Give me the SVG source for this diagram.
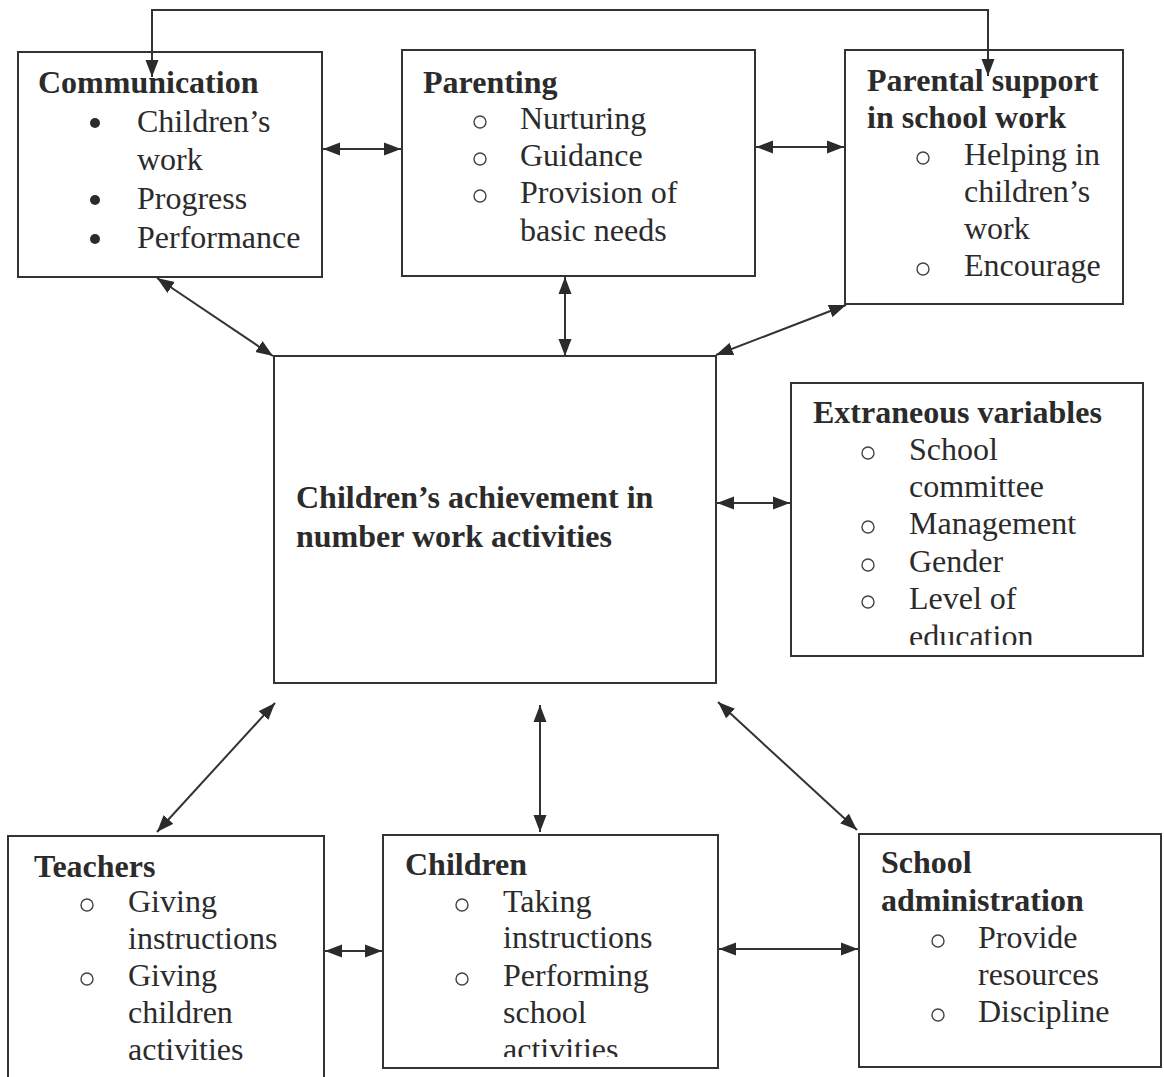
<svg xmlns="http://www.w3.org/2000/svg" width="1164" height="1077" viewBox="0 0 1164 1077">
<defs>
<style>
.box{fill:none;stroke:#333;stroke-width:2}
.t{font-family:"Liberation Serif","Times New Roman",serif;font-size:32px;fill:#2b2b2b}
.b{font-weight:bold}
.dot{fill:#2b2b2b}
.cir{fill:none;stroke:#444;stroke-width:1.4}
.con{fill:none;stroke:#333;stroke-width:2;marker-start:url(#ah);marker-end:url(#ah)}
</style>
<marker id="ah" markerUnits="userSpaceOnUse" markerWidth="18" markerHeight="14" refX="17" refY="7" orient="auto-start-reverse">
<path d="M0,0.5 L17,7 L0,13.5 z" fill="#2b2b2b"/>
</marker>
<clipPath id="clipExt"><rect x="791" y="383" width="352" height="262"/></clipPath>
<clipPath id="clipChi"><rect x="383" y="835" width="335" height="222"/></clipPath>
</defs>
<rect width="1164" height="1077" fill="#fff"/>

<g id="connectors">
<path class="con" d="M988,76 V10 H152 V77"/>
<line class="con" x1="323" y1="149" x2="401" y2="149"/>
<line class="con" x1="756" y1="147" x2="844" y2="147"/>
<line class="con" x1="157" y1="278" x2="273" y2="356"/>
<line class="con" x1="565" y1="277" x2="565" y2="356"/>
<line class="con" x1="846" y1="305" x2="716" y2="355"/>
<line class="con" x1="717" y1="503" x2="790" y2="503"/>
<line class="con" x1="275" y1="703" x2="157" y2="832"/>
<line class="con" x1="540" y1="705" x2="540" y2="832"/>
<line class="con" x1="718" y1="702" x2="857" y2="830"/>
<line class="con" x1="325" y1="951" x2="382" y2="951"/>
<line class="con" x1="719" y1="949" x2="858" y2="949"/>
</g>

<g id="communication">
<rect class="box" x="18" y="52" width="304" height="225"/>
<text class="t b" x="38" y="93">Communication</text>
<circle class="dot" cx="95" cy="123" r="5"/>
<text class="t" x="137" y="132">Children’s</text>
<text class="t" x="137" y="170">work</text>
<circle class="dot" cx="95" cy="200" r="5"/>
<text class="t" x="137" y="209">Progress</text>
<circle class="dot" cx="95" cy="239" r="5"/>
<text class="t" x="137" y="248">Performance</text>
</g>

<g id="parenting">
<rect class="box" x="402" y="50" width="353" height="226"/>
<text class="t b" x="423" y="93">Parenting</text>
<circle class="cir" cx="480" cy="122" r="6"/>
<text class="t" x="520" y="129">Nurturing</text>
<circle class="cir" cx="480" cy="159" r="6"/>
<text class="t" x="520" y="166">Guidance</text>
<circle class="cir" cx="480" cy="196" r="6"/>
<text class="t" x="520" y="203">Provision of</text>
<text class="t" x="520" y="241">basic needs</text>
</g>

<g id="parental-support">
<rect class="box" x="845" y="50" width="278" height="254"/>
<text class="t b" x="867" y="91">Parental support</text>
<text class="t b" x="867" y="128">in school work</text>
<circle class="cir" cx="923" cy="158" r="6"/>
<text class="t" x="964" y="165">Helping in</text>
<text class="t" x="964" y="202">children’s</text>
<text class="t" x="964" y="239">work</text>
<circle class="cir" cx="923" cy="269" r="6"/>
<text class="t" x="964" y="276">Encourage</text>
</g>

<g id="achievement">
<rect class="box" x="274" y="356" width="442" height="327"/>
<text class="t b" x="296" y="508">Children’s achievement in</text>
<text class="t b" x="296" y="547">number work activities</text>
</g>

<g id="extraneous">
<rect class="box" x="791" y="383" width="352" height="273"/>
<text class="t b" x="813" y="423">Extraneous variables</text>
<g clip-path="url(#clipExt)">
<circle class="cir" cx="868" cy="453" r="6"/>
<text class="t" x="909" y="460">School</text>
<text class="t" x="909" y="497">committee</text>
<circle class="cir" cx="868" cy="527" r="6"/>
<text class="t" x="909" y="534">Management</text>
<circle class="cir" cx="868" cy="565" r="6"/>
<text class="t" x="909" y="572">Gender</text>
<circle class="cir" cx="868" cy="602" r="6"/>
<text class="t" x="909" y="609">Level of</text>
<text class="t" x="909" y="647">education</text>
</g>
</g>

<g id="teachers">
<path class="box" d="M8,1078 V836 H324 V1078"/>
<text class="t b" x="34" y="877">Teachers</text>
<circle class="cir" cx="87" cy="905" r="6"/>
<text class="t" x="128" y="912">Giving</text>
<text class="t" x="128" y="949">instructions</text>
<circle class="cir" cx="87" cy="979" r="6"/>
<text class="t" x="128" y="986">Giving</text>
<text class="t" x="128" y="1023">children</text>
<text class="t" x="128" y="1060">activities</text>
</g>

<g id="children">
<rect class="box" x="383" y="835" width="335" height="233"/>
<text class="t b" x="405" y="875">Children</text>
<g clip-path="url(#clipChi)">
<circle class="cir" cx="462" cy="905" r="6"/>
<text class="t" x="503" y="912">Taking</text>
<text class="t" x="503" y="948">instructions</text>
<circle class="cir" cx="462" cy="979" r="6"/>
<text class="t" x="503" y="986">Performing</text>
<text class="t" x="503" y="1023">school</text>
<text class="t" x="503" y="1060">activities</text>
</g>
</g>

<g id="school-administration">
<rect class="box" x="859" y="834" width="302" height="233"/>
<text class="t b" x="881" y="873">School</text>
<text class="t b" x="881" y="911">administration</text>
<circle class="cir" cx="938" cy="941" r="6"/>
<text class="t" x="978" y="948">Provide</text>
<text class="t" x="978" y="985">resources</text>
<circle class="cir" cx="938" cy="1015" r="6"/>
<text class="t" x="978" y="1022">Discipline</text>
</g>
</svg>
